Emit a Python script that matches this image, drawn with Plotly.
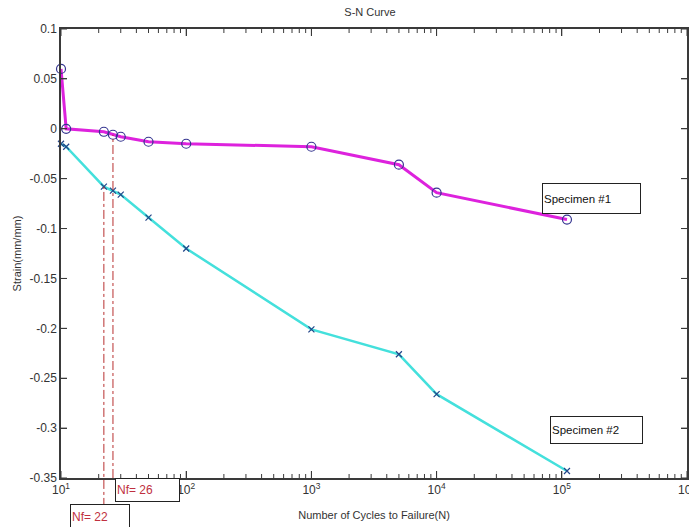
import math
import plotly.graph_objects as go

# ---- data ----
cycles = [10, 11, 22, 26, 30, 50, 100, 1000, 5000, 10000, 110000]
strain_spec1 = [0.06, 0.0, -0.003, -0.006, -0.008, -0.013, -0.015, -0.018, -0.036, -0.064, -0.091]
strain_spec2 = [-0.015, -0.018, -0.058, -0.062, -0.066, -0.089, -0.12, -0.201, -0.226, -0.266, -0.343]
nf_values = [22, 26]
nf_top = [-0.058, -0.006]
nf_bottom = [-0.379, -0.35]
nf_labels = ["Nf= 22", "Nf= 26"]
x_tick_vals = [10, 100, 1000, 10000, 100000, 1000000]
x_tick_text = ["10<sup>1</sup>", "10<sup>2</sup>", "10<sup>3</sup>", "10<sup>4</sup>", "10<sup>5</sup>", "10<sup>6</sup>"]
y_tick_vals = [0.1, 0.05, 0, -0.05, -0.1, -0.15, -0.2, -0.25, -0.3, -0.35]
y_tick_text = ["0.1", "0.05", "0", "-0.05", "-0.1", "-0.15", "-0.2", "-0.25", "-0.3", "-0.35"]
YMIN, YMAX = -0.35, 0.1
XMIN, XMAX = 1, 6

minor_vals = [k * 10 ** d for d in range(1, 6) for k in range(2, 10)]

FONT = "Liberation Sans, Arial, sans-serif"
TXT = "#333333"
AX = "#3a3a3a"

fig = go.Figure()

fig.add_trace(go.Scatter(
    x=cycles, y=strain_spec1, mode="lines+markers", name="Specimen #1",
    line=dict(color="#dd22dd", width=3),
    marker=dict(symbol="circle-open", size=9, color="#353590", line=dict(width=1.2)),
    cliponaxis=False, hoverinfo="skip",
))
fig.add_trace(go.Scatter(
    x=cycles, y=strain_spec2, mode="lines+markers", name="Specimen #2",
    line=dict(color="#44e0dc", width=2.5),
    marker=dict(symbol="x-thin-open", size=6, color="#224488", line=dict(width=1.2)),
    cliponaxis=False, hoverinfo="skip",
))

def px(v):
    return (math.log10(v) - XMIN) / (XMAX - XMIN)

def py(v):
    return (v - YMIN) / (YMAX - YMIN)

# Nf guide lines (dash-dot)
for xv, top, bot in zip(nf_values, nf_top, nf_bottom):
    fig.add_shape(type="line", xref="paper", yref="paper",
                  x0=px(xv), x1=px(xv), y0=py(bot), y1=py(top),
                  line=dict(color="#b83030", width=1, dash="dashdot"), layer="above")

# MATLAB-style inside tick marks on all four sides
MAJ_X = 7 / 449.0
MIN_X = 4 / 449.0
TICK_Y = 6 / 626.0
tick_line = dict(color=AX, width=1)
for v in x_tick_vals:
    fig.add_shape(type="line", xref="x", yref="paper", x0=v, x1=v, y0=0, y1=MAJ_X, line=tick_line)
    fig.add_shape(type="line", xref="x", yref="paper", x0=v, x1=v, y0=1, y1=1 - MAJ_X, line=tick_line)
for v in minor_vals:
    fig.add_shape(type="line", xref="x", yref="paper", x0=v, x1=v, y0=0, y1=MIN_X, line=tick_line)
    fig.add_shape(type="line", xref="x", yref="paper", x0=v, x1=v, y0=1, y1=1 - MIN_X, line=tick_line)
for v in y_tick_vals:
    fig.add_shape(type="line", xref="paper", yref="y", x0=0, x1=TICK_Y, y0=v, y1=v, line=tick_line)
    fig.add_shape(type="line", xref="paper", yref="y", x0=1, x1=1 - TICK_Y, y0=v, y1=v, line=tick_line)

box = dict(showarrow=False, align="left", xanchor="center", yanchor="middle",
           bordercolor="#222222", borderwidth=1, borderpad=1, bgcolor="white")

# Nf label boxes
fig.add_annotation(xref="paper", yref="paper", x=0.0623, y=-0.0869, text=nf_labels[0],
                   width=56, height=22, font=dict(family=FONT, size=12, color="#c03040"), **box)
fig.add_annotation(xref="paper", yref="paper", x=0.1382, y=-0.0267, text=nf_labels[1],
                   width=61, height=20, font=dict(family=FONT, size=12, color="#c03040"), **box)

# Specimen label boxes
fig.add_annotation(xref="paper", yref="paper", x=0.8475, y=0.6225, text="Specimen #1",
                   width=95, height=27, font=dict(family=FONT, size=11.5, color="#111111"), **box)
fig.add_annotation(xref="paper", yref="paper", x=0.8554, y=0.1069, text="Specimen #2",
                   width=89, height=24, font=dict(family=FONT, size=11.5, color="#111111"), **box)

fig.update_layout(
    width=689, height=527,
    paper_bgcolor="white", plot_bgcolor="white",
    margin=dict(l=61, r=2, t=29, b=49),
    showlegend=False,
    font=dict(family=FONT, size=12, color=TXT),
    title=dict(text="S-N Curve", x=0.537, xanchor="center", y=0.985, yanchor="top",
               font=dict(family=FONT, size=11, color=TXT)),
    xaxis=dict(
        type="log", range=[XMIN, XMAX],
        tickmode="array", tickvals=x_tick_vals, ticktext=x_tick_text,
        ticks="inside", ticklen=7, tickcolor=AX, tickwidth=1,
        showline=True, linecolor=AX, linewidth=1.5, mirror="allticks",
        showgrid=False, zeroline=False, ticklabeloverflow="allow",
        tickfont=dict(family=FONT, size=12, color=TXT),
        title=dict(text="Number of Cycles to Failure(N)", standoff=15,
                   font=dict(family=FONT, size=11, color=TXT)),
        automargin=False,
    ),
    yaxis=dict(
        range=[YMIN, YMAX],
        tickmode="array", tickvals=y_tick_vals, ticktext=y_tick_text,
        ticks="inside", ticklen=6, tickcolor=AX, tickwidth=1,
        showline=True, linecolor=AX, linewidth=1.5, mirror="allticks",
        showgrid=False, zeroline=False,
        tickfont=dict(family=FONT, size=12, color=TXT),
        title=dict(text="Strain(mm/mm)", standoff=6,
                   font=dict(family=FONT, size=11, color=TXT)),
        automargin=False,
    ),
)

fig.write_html("out.html", config={"displayModeBar": False},
               post_script="document.body.style.margin='0';")
